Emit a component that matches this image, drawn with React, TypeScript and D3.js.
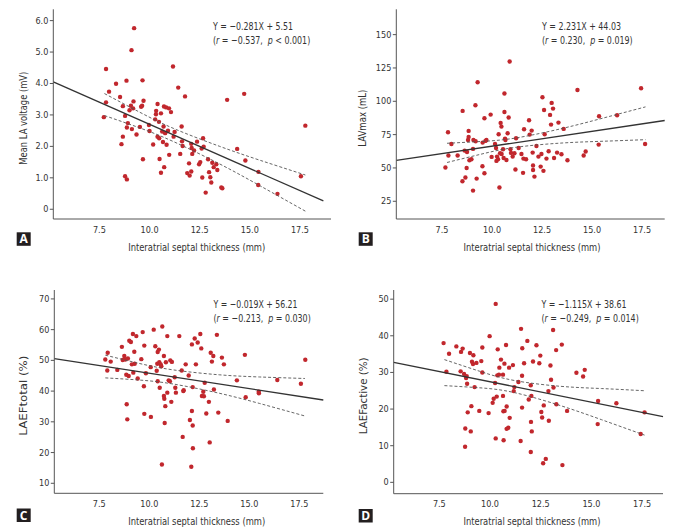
import React from "react";
import * as d3 from "d3";

// ---------- Data ----------
const xTickValues = [7.5, 10, 12.5, 15, 17.5];
const xTitle = "Interatrial septal thickness (mm)";

// Panel A: Mean LA voltage (mV)
const aX = [7.72,7.83,7.83,7.98,8.33,8.53,8.67,8.6,8.67,8.78,8.78,8.87,8.85,8.87,8.92,9.0,9.1,9.12,9.07,9.23,9.2,9.18,9.35,9.52,9.58,9.63,9.65,9.67,9.7,9.97,10.0,10.18,10.28,10.33,10.32,10.4,10.4,10.47,10.48,10.5,10.57,10.57,10.63,10.7,10.72,10.73,10.67,10.78,10.83,10.85,10.92,10.97,10.98,11.07,11.17,11.2,11.25,11.43,11.53,11.6,11.62,11.65,11.77,11.88,11.97,12.0,12.08,12.08,12.1,12.13,12.22,12.37,12.47,12.53,12.6,12.63,12.67,12.7,12.8,12.92,12.97,13.03,13.08,13.13,13.2,13.33,13.38,13.58,13.63,13.87,14.37,14.72,14.78,15.43,15.42,16.38,17.55,17.77];
const aY = [2.93,4.46,3.40,3.74,3.99,3.57,3.28,2.07,2.31,2.97,1.05,0.95,4.09,2.60,2.74,3.15,5.06,2.55,3.29,5.76,3.43,3.21,2.38,2.62,3.26,3.29,4.10,1.59,3.45,2.68,2.49,2.06,2.86,3.13,3.02,3.35,2.31,2.78,2.26,1.60,1.16,3.05,2.47,2.63,3.27,1.34,2.14,2.42,3.24,2.05,2.50,3.21,1.73,3.09,4.54,2.31,2.46,3.87,1.76,2.63,2.16,2.01,3.59,1.15,1.46,1.07,1.20,2.08,1.95,1.76,1.87,2.15,1.43,1.50,1.93,1.01,2.26,1.99,0.53,1.59,1.18,1.02,0.85,1.48,1.34,1.43,1.25,0.69,0.67,3.48,1.92,3.67,1.55,1.19,0.77,0.49,1.05,2.66];
const aTicks = [0, 1, 2, 3, 4, 5, 6];
const aCiX = [7.75, 9.5, 11.2, 13.5, 15.5, 17.77];
const aCiUpper = [3.68, 3.09, 2.57, 2.0, 1.56, 1.09];
const aCiLower = [2.98, 2.59, 2.15, 1.44, 0.75, -0.06];
const aFit = { slope: -0.281, intercept: 5.51 };

// Panel B: LAVmax (mL)
const bX = [7.67,7.8,7.82,7.97,8.28,8.53,8.52,8.63,8.67,8.73,8.75,8.8,8.83,8.83,8.87,8.97,9.05,9.05,9.07,9.17,9.18,9.23,9.28,9.52,9.53,9.62,9.62,9.67,9.72,9.93,9.98,10.15,10.2,10.22,10.25,10.3,10.33,10.37,10.4,10.43,10.47,10.48,10.55,10.58,10.62,10.62,10.65,10.67,10.72,10.78,10.83,10.88,10.92,10.95,11.03,11.12,11.17,11.2,11.33,11.47,11.55,11.57,11.6,11.7,11.85,11.88,11.98,12.03,12.05,12.05,12.12,12.22,12.32,12.43,12.47,12.52,12.57,12.6,12.63,12.72,12.83,12.9,12.95,12.98,13.05,13.1,13.25,13.32,13.47,13.58,13.77,14.27,14.58,14.68,15.35,15.33,16.25,17.45,17.65];
const bY = [50.3,76.8,59.3,68.0,59.3,92.8,40.0,63.0,42.8,50.0,62.0,71.0,77.8,73.3,55.8,56.5,33.0,64.3,71.0,97.0,70.0,42.0,114.3,51.3,69.0,46.0,87.3,70.3,71.0,90.0,58.3,68.0,65.0,55.3,58.5,56.5,75.3,35.3,61.0,83.8,81.0,60.5,64.0,57.5,105.8,92.0,72.0,71.0,56.0,76.0,87.8,129.8,64.0,61.3,58.5,61.0,48.8,72.3,65.0,60.5,46.3,57.0,79.0,56.5,85.8,75.0,78.0,61.5,51.8,48.5,43.5,66.5,58.5,51.0,60.5,103.0,47.8,93.5,75.3,57.0,62.5,89.8,82.5,98.8,94.5,57.5,61.5,84.0,60.3,79.3,55.8,108.5,59.3,62.3,88.8,67.5,89.5,109.8,68.0];
const bTicks = [25, 50, 75, 100, 125, 150];
const bCiX = [7.75, 9.5, 11.2, 13.5, 15.5, 17.67];
const bCiUpper = [68.5, 69.9, 72.5, 79.6, 87.2, 95.8];
const bCiLower = [54.1, 60.5, 65.5, 68.7, 70.0, 71.2];
const bFit = { slope: 2.231, intercept: 44.03 };

// Panel C: LAEFtotal (%)
const cX = [7.8,7.92,7.9,8.07,8.4,8.63,8.67,8.75,8.8,8.85,8.87,8.9,8.93,8.97,9.0,9.08,9.13,9.18,9.2,9.25,9.27,9.35,9.42,9.6,9.67,9.73,9.75,9.75,9.83,10.07,10.08,10.22,10.3,10.37,10.4,10.42,10.42,10.48,10.5,10.52,10.57,10.6,10.63,10.65,10.73,10.73,10.75,10.77,10.8,10.83,10.9,10.9,10.97,11.03,11.05,11.1,11.13,11.27,11.3,11.33,11.5,11.62,11.67,11.7,11.72,11.82,11.97,12.03,12.1,12.13,12.13,12.17,12.17,12.18,12.27,12.33,12.42,12.55,12.6,12.63,12.7,12.73,12.77,12.85,12.98,13.02,13.07,13.13,13.2,13.23,13.38,13.45,13.63,13.73,13.92,14.38,14.78,14.82,15.47,15.48,16.4,17.58,17.8];
const cY = [50.3,52.5,46.7,49.6,46.9,54.4,50.1,51.4,50.3,45.3,35.7,30.8,50.6,44.9,56.4,56.0,48.7,58.6,46.0,52.8,48.9,57.9,44.1,50.4,59.2,41.6,54.8,32.6,45.8,47.8,31.6,60.0,54.6,46.6,48.9,43.2,52.7,53.5,49.4,41.1,48.7,48.1,16.1,61.0,51.4,38.4,37.5,29.6,35.1,49.4,57.9,39.5,43.5,43.2,50.0,36.5,49.5,44.5,41.1,39.5,57.9,46.7,25.1,40.0,40.3,48.7,45.1,30.6,15.4,33.5,55.2,41.3,28.8,21.4,57.1,48.7,55.8,58.6,53.9,38.4,39.8,38.3,42.7,32.7,36.5,23.3,52.5,49.6,51.4,40.5,58.3,33.0,50.9,48.7,30.3,43.5,51.8,38.0,39.8,39.3,43.6,42.4,50.2];
const cTicks = [10, 20, 30, 40, 50, 60, 70];
const cCiX = [7.8, 9.5, 11.2, 13.5, 15.5, 17.78];
const cCiUpper = [51.7, 49.0, 46.9, 45.3, 44.6, 44.1];
const cCiLower = [44.3, 43.6, 42.3, 39.3, 36.0, 31.9];
const cFit = { slope: -1.0, intercept: 55.8 };

// Panel D: LAEFactive (%)
const dX = [7.71,7.85,7.98,8.34,8.55,8.57,8.65,8.72,8.77,8.78,8.82,8.85,8.87,8.9,9.01,9.05,9.08,9.11,9.16,9.18,9.24,9.33,9.47,9.57,9.62,9.62,9.93,9.98,10.13,10.18,10.25,10.28,10.28,10.33,10.36,10.38,10.44,10.46,10.54,10.64,10.64,10.66,10.67,10.71,10.72,10.79,10.82,10.82,10.9,10.94,10.97,11.13,11.17,11.2,11.4,11.51,11.53,11.58,11.58,11.59,11.68,11.84,11.91,12.01,12.02,12.04,12.06,12.01,12.12,12.29,12.43,12.48,12.53,12.57,12.62,12.65,12.75,12.88,12.9,12.98,13.01,13.11,13.13,13.27,13.26,13.54,13.57,13.8,14.26,14.59,14.67,15.33,15.31,16.23,17.43,17.62];
const dY = [38.0,30.2,35.1,37.1,30.3,35.6,36.5,29.6,9.7,14.7,28.5,29.0,26.9,19.1,35.3,13.9,20.8,32.9,32.3,34.7,26.0,32.6,19.5,33.1,36.8,30.0,18.9,39.9,21.7,22.8,27.1,48.7,12.0,23.4,29.2,36.3,29.4,31.3,33.5,29.4,23.6,19.4,11.5,32.4,19.5,37.5,20.7,14.6,14.9,31.3,17.6,32.0,24.9,26.0,27.4,11.3,41.9,20.4,29.1,36.6,32.5,38.6,22.6,8.3,16.5,23.6,13.9,26.5,33.0,37.4,32.5,34.6,19.2,17.7,5.2,21.0,6.4,24.9,16.8,31.9,28.0,41.6,25.9,21.3,36.1,37.6,4.7,19.5,29.9,28.9,30.7,22.2,15.9,21.6,13.2,19.1];
const dTicks = [0, 10, 20, 30, 40, 50];
const dCiX = [7.75, 9.5, 11.2, 13.5, 15.5, 17.62];
const dCiUpper = [33.5, 30.3, 27.8, 26.2, 25.6, 25.0];
const dCiLower = [26.4, 25.8, 24.5, 20.9, 17.1, 12.9];
const dFit = { slope: -1.115, intercept: 38.61 };

// ---------- Styles ----------
const FONT = "'Liberation Sans Narrow', 'DejaVu Sans Condensed', 'Open Sans', sans-serif";
const DOT = "#c1272d";
const AXIS = "#555";
const TEXT = "#333";

type Cfg = {
  letter: string;
  xs: number[];
  ys: number[];
  yTicks: number[];
  yFmt: (v: number) => string;
  ciX: number[];
  ciU: number[];
  ciL: number[];
  fit: { slope: number; intercept: number };
  fitEnd: number;
  yTitle: string;
  yTitleLen: number;
  eq1: string;
  rText: string;
  pText: string;
  eqLen1: number;
  xDomain: [number, number];
  yDomain: [number, number];
  left: number;
  right: number;
  top: number;
  bottom: number;
  eqX: number;
  eqY: number;
  yTitleX: number;
  xTitleX: number;
  boxX: number;
  boxY: number;
};

function Panel({ c }: { c: Cfg }) {
  const x = d3.scaleLinear().domain(c.xDomain).range([c.left, c.right]);
  const y = d3.scaleLinear().domain(c.yDomain).range([c.bottom, c.top]);
  const ci = (vals: number[]) =>
    d3.line<number>().x((_, i) => x(c.ciX[i])).y((v) => y(v)).curve(d3.curveNatural)(vals) || "";
  const fitLine =
    d3.line<number>().x((v) => x(v)).y((v) => y(c.fit.slope * v + c.fit.intercept))([
      c.xDomain[0],
      c.fitEnd,
    ]) || "";
  const n = Math.min(c.xs.length, c.ys.length);
  const pts = d3.range(n).map((i) => [c.xs[i], c.ys[i]]);
  const yMid = (c.top + c.bottom) / 2;
  return (
    <g fontFamily={FONT}>
      {pts.map((p, i) => (
        <circle key={i} cx={x(p[0])} cy={y(p[1])} r={2.2} fill={DOT} />
      ))}
      <path d={ci(c.ciU)} fill="none" stroke="#555" strokeWidth={0.9} strokeDasharray="3,2" />
      <path d={ci(c.ciL)} fill="none" stroke="#555" strokeWidth={0.9} strokeDasharray="3,2" />
      <path d={fitLine} fill="none" stroke="#333" strokeWidth={1.3} />
      <path d={`M${c.left},${c.top}V${c.bottom}H${c.right}`} fill="none" stroke={AXIS} strokeWidth={1} />
      {c.yTicks.map((t) => (
        <g key={t}>
          <line x1={c.left - 3.5} x2={c.left} y1={y(t)} y2={y(t)} stroke={AXIS} strokeWidth={1} />
          <text x={c.left - 5} y={y(t)} dy="0.33em" textAnchor="end" fontSize={9} fill={TEXT}>
            {c.yFmt(t)}
          </text>
        </g>
      ))}
      {xTickValues.map((t) => (
        <text key={t} x={x(t)} y={c.bottom + 13.5} textAnchor="middle" fontSize={9} fill={TEXT}>
          {t.toFixed(1)}
        </text>
      ))}
      <text
        x={c.xTitleX}
        y={c.bottom + 31.5}
        textAnchor="middle"
        fontSize={11}
        fill={TEXT}
        textLength={137}
        lengthAdjust="spacingAndGlyphs"
      >
        {xTitle}
      </text>
      <text
        transform={`translate(${c.yTitleX},${yMid + 4}) rotate(-90)`}
        textAnchor="middle"
        fontSize={11}
        fill={TEXT}
        textLength={c.yTitleLen}
        lengthAdjust="spacingAndGlyphs"
      >
        {c.yTitle}
      </text>
      <text x={c.eqX} y={c.eqY} fontSize={11} fill={TEXT} textLength={c.eqLen1} lengthAdjust="spacingAndGlyphs">
        {c.eq1}
      </text>
      <text transform={`translate(${c.eqX},${c.eqY + 14}) scale(0.8,1)`} fontSize={11} fill={TEXT}>
        {"("}
        <tspan fontStyle="italic">r</tspan>
        {` = ${c.rText},\u00a0\u00a0`}
        <tspan fontStyle="italic">p</tspan>
        {` ${c.pText})`}
      </text>
      <rect x={c.boxX} y={c.boxY} width={14} height={13.5} fill="#231f20" />
      <text
        x={c.boxX + 7}
        y={c.boxY + 11}
        textAnchor="middle"
        fontSize={12}
        fontWeight="bold"
        fill="#fff"
        fontFamily="'Open Sans', sans-serif"
      >
        {c.letter}
      </text>
    </g>
  );
}

const fmt1 = (v: number) => (v === 0 ? "0" : v.toFixed(1));
const fmt0 = (v: number) => String(v);

const panels: Cfg[] = [
  {
    letter: "A", xs: aX, ys: aY, yTicks: aTicks, yFmt: fmt1,
    ciX: aCiX, ciU: aCiUpper, ciL: aCiLower, fit: aFit, fitEnd: 18.67,
    yTitle: "Mean LA voltage (mV)", yTitleLen: 93,
    eq1: "Y = \u22120.281X + 5.51", rText: "\u22120.537", pText: "< 0.001", eqLen1: 80,
    xDomain: [5.2, 19.05], yDomain: [-0.31, 6.36],
    left: 53.3, right: 331, top: 9.3, bottom: 219,
    eqX: 213, eqY: 30, yTitleX: 27, xTitleX: 196.7, boxX: 16.7, boxY: 232.3,
  },
  {
    letter: "B", xs: bX, ys: bY, yTicks: bTicks, yFmt: fmt0,
    ciX: bCiX, ciU: bCiUpper, ciL: bCiLower, fit: bFit, fitEnd: 18.63,
    yTitle: "LAVmax (mL)", yTitleLen: 57,
    eq1: "Y = 2.231X + 44.03", rText: "0.230", pText: "= 0.019", eqLen1: 79,
    xDomain: [5.215, 18.63], yDomain: [11.7, 169],
    left: 396.3, right: 664.7, top: 9.3, bottom: 219,
    eqX: 542, eqY: 30, yTitleX: 365.5, xTitleX: 532, boxX: 358.7, boxY: 232.3,
  },
  {
    letter: "C", xs: cX, ys: cY, yTicks: cTicks, yFmt: fmt0,
    ciX: cCiX, ciU: cCiUpper, ciL: cCiLower, fit: cFit, fitEnd: 18.7,
    yTitle: "LAEFtotal (%)", yTitleLen: 80,
    eq1: "Y = \u22120.019X + 56.21", rText: "\u22120.213", pText: "= 0.030", eqLen1: 84,
    xDomain: [5.25, 18.7], yDomain: [6.74, 72.9],
    left: 54.3, right: 323.3, top: 290, bottom: 493.3,
    eqX: 213.5, eqY: 308, yTitleX: 27, xTitleX: 196.7, boxX: 16.7, boxY: 508.5,
  },
  {
    letter: "D", xs: dX, ys: dY, yTicks: dTicks, yFmt: fmt0,
    ciX: dCiX, ciU: dCiUpper, ciL: dCiLower, fit: dFit, fitEnd: 18.53,
    yTitle: "LAEFactive (%)", yTitleLen: 77,
    eq1: "Y = \u22121.115X + 38.61", rText: "\u22120.249", pText: "= 0.014", eqLen1: 85,
    xDomain: [5.25, 18.53], yDomain: [-3.1, 52.5],
    left: 393.7, right: 663, top: 290, bottom: 493.7,
    eqX: 541.5, eqY: 308, yTitleX: 367, xTitleX: 532, boxX: 358.7, boxY: 509,
  },
];

export default function App() {
  return (
    <svg
      width={684}
      height={531}
      viewBox="0 0 684 531"
      style={{ position: "absolute", left: 0, top: 0, background: "#fff" }}
    >
      <rect width={684} height={531} fill="#fff" />
      {panels.map((p) => (
        <Panel key={p.letter} c={p} />
      ))}
    </svg>
  );
}
